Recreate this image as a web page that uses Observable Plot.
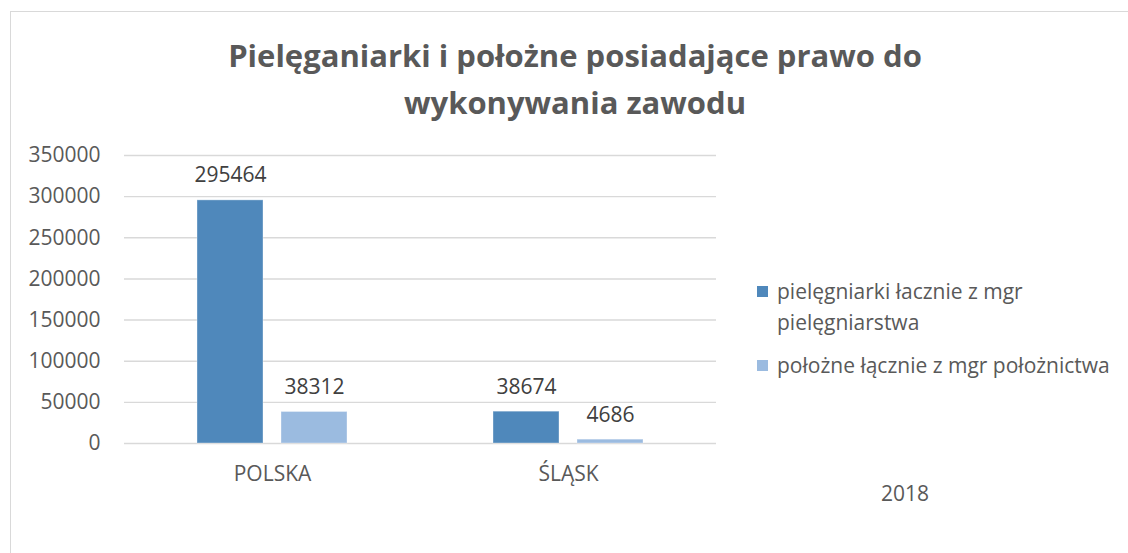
<!DOCTYPE html>
<html>
<head>
<meta charset="utf-8">
<script src="https://cdn.jsdelivr.net/npm/d3@7"></script>
<script src="https://cdn.jsdelivr.net/npm/@observablehq/plot@0.6"></script>
<style>
  html, body { margin: 0; padding: 0; background: #fff; }
  body { width: 1128px; height: 553px; overflow: hidden; position: relative; font-family: "Open Sans", sans-serif; }
  #frame { position: absolute; left: 10px; top: 11px; width: 1200px; height: 600px; border: 1px solid #d9d9d9; box-sizing: border-box; }
  #title { position: absolute; left: 125px; width: 900px; top: 32px; text-align: center; font-weight: bold; font-size: 31px; line-height: 47px; color: #595959; }
  #chart { position: absolute; left: 0; top: 0; }
  #legend { position: absolute; left: 757px; top: 276px; color: #595959; font-size: 21px; }
  .item { position: relative; padding-left: 20px; line-height: 31px; }
  .sw { position: absolute; left: 0; top: 10px; width: 11px; height: 11px; }
  #year { position: absolute; left: 855px; width: 100px; top: 479px; text-align: center; color: #595959; font-size: 21px; }
</style>
</head>
<body>
<div id="frame"></div>
<div id="title"></div>
<div id="chart"></div>
<div id="legend"></div>
<div id="year"></div>
<script>
const regions = ["POLSKA", "ŚLĄSK"];
const seriesNames = ["pielęgniarki łacznie z mgr pielęgniarstwa", "położne łącznie z mgr położnictwa"];
const nurses = [295464, 38674];
const midwives = [38312, 4686];
const yTicks = [0, 50000, 100000, 150000, 200000, 250000, 300000, 350000];
const colors = ["#4f88bb", "#9bbbe0"];
const titleLines = ["Pielęganiarki i położne posiadające prawo do", "wykonywania zawodu"];
const yearLabel = "2018";

const data = [];
regions.forEach((r, i) => {
  data.push({region: r, series: seriesNames[0], value: nurses[i]});
  data.push({region: r, series: seriesNames[1], value: midwives[i]});
});

document.getElementById("title").innerHTML = titleLines.join("<br>");
document.getElementById("year").textContent = yearLabel;
const legend = document.getElementById("legend");
seriesNames.forEach((s, i) => {
  const d = document.createElement("div");
  d.className = "item";
  d.style.marginBottom = i === 0 ? "12px" : "0";
  d.style.width = i === 0 ? "300px" : "380px";
  d.innerHTML = `<span class="sw" style="background:${colors[i]}"></span>${s}`;
  legend.appendChild(d);
});

const chart = Plot.plot({
  width: 1128,
  height: 553,
  marginLeft: 123,
  marginRight: 412,
  marginTop: 155,
  marginBottom: 110,
  style: {fontFamily: "Open Sans, sans-serif", fontSize: "21px", color: "#595959", background: "transparent", overflow: "visible"},
  fx: {domain: regions, padding: 0, label: null, axis: "bottom", tickSize: 0, tickPadding: 23},
  x: {domain: seriesNames, paddingInner: 0.2125, paddingOuter: 0.854, axis: null},
  y: {domain: [0, 350000], ticks: yTicks, label: null, tickSize: 0, tickPadding: 24, tickFormat: d => String(d)},
  color: {domain: seriesNames, range: colors},
  marks: [
    Plot.gridY(yTicks, {stroke: "#d9d9d9", strokeOpacity: 1, strokeWidth: 1.4}),
    Plot.barY(data, {fx: "region", x: "series", y: "value", fill: "series", stroke: "#ffffff", strokeOpacity: 0.35, strokeWidth: 1}),
    Plot.text(data, {fx: "region", x: "series", y: "value", text: d => String(d.value), lineAnchor: "bottom", dy: -18, fill: "#404040", fontSize: 21})
  ]
});
document.getElementById("chart").appendChild(chart);
</script>
</body>
</html>
